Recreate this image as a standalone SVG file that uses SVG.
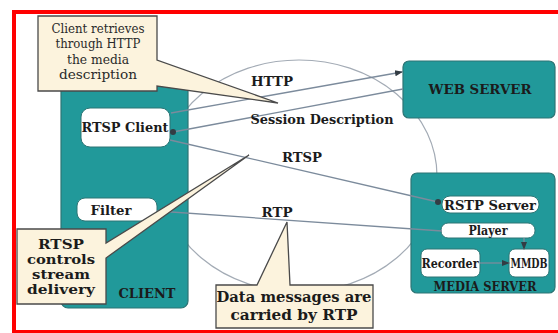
<svg xmlns="http://www.w3.org/2000/svg" width="558" height="333" viewBox="0 0 558 333">
<style>
.teal{fill:#21999a;stroke:#2d7575;stroke-width:1.2}
.inner{fill:#ffffff;stroke:#2d7575;stroke-width:1}
.callout{fill:#fcf3dd;stroke:#4a4a4a;stroke-width:1.3}
.conn{fill:none;stroke:#7c8b9c;stroke-width:1.3}
.lbl{font-family:"DejaVu Serif","Liberation Serif",serif;font-weight:bold;fill:#1b1b1b;text-anchor:middle}
.note{font-family:"DejaVu Serif","Liberation Serif",serif;fill:#2a2a2a;text-anchor:middle}
</style>
<defs>
<marker id="arr" markerWidth="8" markerHeight="8" refX="7" refY="4" orient="auto" markerUnits="userSpaceOnUse">
<path d="M0,1 L8,4 L0,7 Z" fill="#333c44"/>
</marker>
<marker id="dot" markerWidth="8" markerHeight="8" refX="4" refY="4" markerUnits="userSpaceOnUse">
<circle cx="4" cy="4" r="3" fill="#333c44"/>
</marker>
</defs>
<rect x="0" y="0" width="558" height="333" fill="#ffffff"/>
<rect x="14" y="12" width="560" height="320" fill="none" stroke="#ff0000" stroke-width="4"/>

<ellipse cx="299" cy="176" rx="138" ry="116" fill="none" stroke="#a3abb5" stroke-width="1.2"/>

<g id="client">
<rect class="teal" x="61" y="84" width="127" height="224" rx="7"/>
<text class="lbl" x="147" y="298" font-size="13" textLength="57" lengthAdjust="spacingAndGlyphs" fill="#1b3034">CLIENT</text>
</g>
<g id="rtsp-client">
<rect class="inner" x="81" y="108" width="89" height="39" rx="9"/>
<text class="lbl" x="125" y="132" font-size="13" textLength="87" lengthAdjust="spacingAndGlyphs">RTSP Client</text>
</g>
<g id="filter">
<rect class="inner" x="77" y="198" width="80" height="23" rx="8"/>
<text class="lbl" x="111" y="215" font-size="13" textLength="41" lengthAdjust="spacingAndGlyphs">Filter</text>
</g>

<g id="web-server">
<rect class="teal" x="403" y="61" width="152" height="57" rx="6"/>
<text class="lbl" x="480" y="94" font-size="13" textLength="103" lengthAdjust="spacingAndGlyphs" fill="#16282a">WEB SERVER</text>
</g>

<g id="media-server">
<rect class="teal" x="411" y="173" width="144" height="120" rx="6"/>
<text class="lbl" x="485" y="291" font-size="12" textLength="103" lengthAdjust="spacingAndGlyphs" fill="#123a58">MEDIA SERVER</text>
</g>
<g id="rstp-server">
<rect class="inner" x="442" y="196" width="97" height="17" rx="8"/>
<text class="lbl" x="490" y="210" font-size="13" textLength="92" lengthAdjust="spacingAndGlyphs">RSTP Server</text>
</g>
<g id="player">
<rect class="inner" x="441" y="223" width="94" height="15" rx="7"/>
<text class="lbl" x="488" y="235" font-size="12" textLength="39" lengthAdjust="spacingAndGlyphs">Player</text>
</g>
<g id="recorder">
<rect class="inner" x="421" y="249" width="59" height="28" rx="6"/>
<text class="lbl" x="450" y="268" font-size="12" textLength="57" lengthAdjust="spacingAndGlyphs">Recorder</text>
</g>
<g id="mmdb">
<rect class="inner" x="509" y="249" width="40" height="28" rx="6"/>
<text class="lbl" x="529" y="268" font-size="12" textLength="37" lengthAdjust="spacingAndGlyphs">MMDB</text>
</g>

<g id="connectors">
<line class="conn" x1="171" y1="113" x2="402" y2="72" marker-end="url(#arr)"/>
<line class="conn" x1="403" y1="89" x2="173" y2="132" marker-end="url(#dot)"/>
<line class="conn" x1="170" y1="140" x2="438" y2="202" marker-end="url(#dot)"/>
<line class="conn" x1="157" y1="211" x2="442" y2="231"/>
<line class="conn" x1="524" y1="238" x2="524" y2="249" stroke="#3a4a55" marker-end="url(#arr)"/>
<line class="conn" x1="480" y1="263" x2="509" y2="263" stroke="#3a4a55" marker-end="url(#arr)"/>
<text class="lbl" x="272" y="86" font-size="13" textLength="42" lengthAdjust="spacingAndGlyphs">HTTP</text>
<text class="lbl" x="322" y="124" font-size="13" textLength="143" lengthAdjust="spacingAndGlyphs">Session Description</text>
<text class="lbl" x="302" y="162" font-size="13" textLength="40" lengthAdjust="spacingAndGlyphs">RTSP</text>
<text class="lbl" x="277" y="217" font-size="13" textLength="31" lengthAdjust="spacingAndGlyphs">RTP</text>
</g>

<g id="note-http">
<path class="callout" d="M38,16 H157 V60 L278,103 L157,86 V91 H38 Z"/>
<text class="note" x="98" y="33" font-size="13" textLength="93" lengthAdjust="spacingAndGlyphs">Client retrieves</text>
<text class="note" x="98" y="48" font-size="13" textLength="85" lengthAdjust="spacingAndGlyphs">through HTTP</text>
<text class="note" x="98" y="64" font-size="13" textLength="62" lengthAdjust="spacingAndGlyphs">the media</text>
<text class="note" x="98" y="79" font-size="13" textLength="78" lengthAdjust="spacingAndGlyphs">description</text>
</g>

<g id="note-rtsp">
<path class="callout" d="M17,229 H106 V243 L249,155 L106,258 V304 H17 Z"/>
<text class="lbl" x="61" y="249" font-size="12.5" textLength="46" lengthAdjust="spacingAndGlyphs">RTSP</text>
<text class="lbl" x="61" y="264" font-size="12.5" textLength="68" lengthAdjust="spacingAndGlyphs">controls</text>
<text class="lbl" x="61" y="279" font-size="12.5" textLength="58" lengthAdjust="spacingAndGlyphs">stream</text>
<text class="lbl" x="61" y="294" font-size="12.5" textLength="68" lengthAdjust="spacingAndGlyphs">delivery</text>
</g>

<g id="note-rtp">
<path class="callout" d="M216,285 H257 L287,222 L290,285 H373 V328 H216 Z"/>
<text class="lbl" x="294" y="302" font-size="15" textLength="155" lengthAdjust="spacingAndGlyphs">Data messages are</text>
<text class="lbl" x="294" y="320" font-size="15" textLength="127" lengthAdjust="spacingAndGlyphs">carried by RTP</text>
</g>
</svg>
